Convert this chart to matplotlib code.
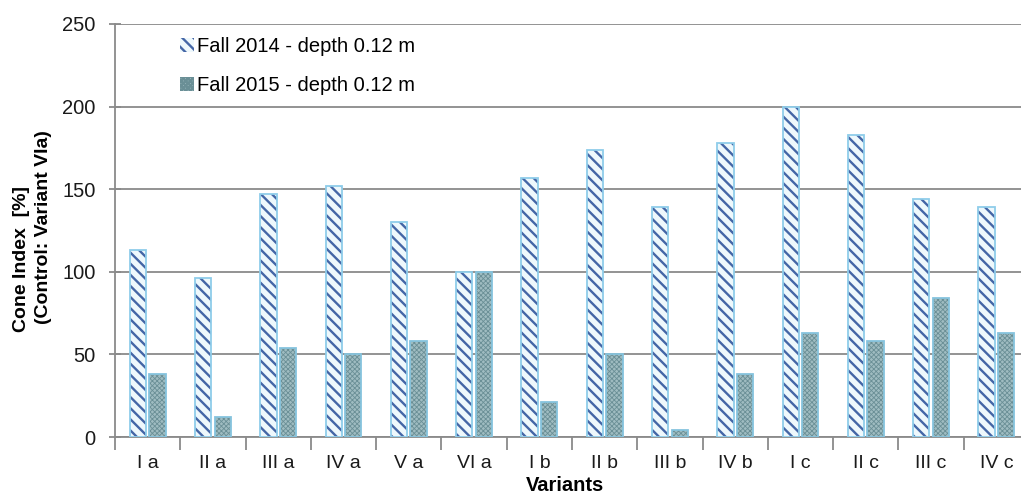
import matplotlib
matplotlib.use("Agg")
import matplotlib.pyplot as plt
import numpy as np
from matplotlib.patches import Patch

categories = ["I a", "II a", "III a", "IV a", "V a", "VI a", "I b", "II b",
              "III b", "IV b", "I c", "II c", "III c", "IV c"]
fall_2014 = [113, 96, 147, 152, 130, 100, 157, 174, 139, 178, 200, 183, 144, 139]
fall_2015 = [38, 12, 54, 50, 58, 100, 21, 50, 4, 38, 63, 58, 84, 63]
label_2014 = "Fall 2014 - depth 0.12 m"
label_2015 = "Fall 2015 - depth 0.12 m"
y_ticks = [0, 50, 100, 150, 200, 250]

plt.rcParams['font.family'] = ['Liberation Sans', 'DejaVu Sans']
plt.rcParams['hatch.linewidth'] = 1.7

W, H = 1021, 494
fig = plt.figure(figsize=(W / 100, H / 100), dpi=100)
ax = fig.add_axes([115 / W, (H - 437) / H, 914 / W, 413 / H])

x = np.arange(len(categories))
bw = 0.25
off = 0.15

face14 = '#eef8fc'
hatch14 = '#4466a6'
edge14 = '#8fcdea'
face15 = '#9fbcc1'
hatch15 = '#6a8f96'
edge15 = '#86c4de'
h14 = '\\\\\\'
h15 = 'xxxxxxx'

ax.bar(x - off, fall_2014, bw, color=face14, edgecolor=hatch14, hatch=h14, linewidth=0, zorder=3)
ax.bar(x - off, fall_2014, bw, fill=False, edgecolor=edge14, linewidth=1.3, zorder=4)
with plt.rc_context({'hatch.linewidth': 0.6}):
    ax.bar(x + off, fall_2015, bw, color=face15, edgecolor=hatch15, hatch=h15, linewidth=0, zorder=3)
ax.bar(x + off, fall_2015, bw, fill=False, edgecolor=edge15, linewidth=1.3, zorder=4)

ax.set_xlim(-0.5, len(categories) - 0.5)
ax.set_ylim(0, 250)
ax.set_yticks(y_ticks)
ax.yaxis.grid(True, color='#8a8a8a', linewidth=1.3, zorder=0)
ax.set_axisbelow(True)

for s in ['top', 'right']:
    ax.spines[s].set_visible(False)
for s in ['left', 'bottom']:
    ax.spines[s].set_color('#8a8a8a')
    ax.spines[s].set_linewidth(1.3)

ax.set_xticks(x)
ax.set_xticklabels(categories)
ax.set_xticks(np.arange(len(categories) + 1) - 0.5, minor=True)
ax.tick_params(axis='x', which='major', length=0, pad=13, labelsize=14, labelcolor='#1a1a1a')
ax.tick_params(axis='x', which='minor', length=9, width=1.3, color='#8a8a8a', direction='out')
ax.tick_params(axis='y', which='major', length=8, width=1.3, color='#8a8a8a', direction='inout',
               pad=10, labelsize=14.5, labelcolor='#1a1a1a')

fig.text(565 / W, 1 - 485 / H, "Variants", ha='center', va='center', fontsize=14.5, fontweight='bold')
fig.text(22 / W, 1 - 259 / H, "Cone Index  [%]", rotation=90, ha='center', va='center',
         fontsize=14, fontweight='bold')
fig.text(43 / W, 1 - 227 / H, "(Control: Variant VIa)", rotation=90, ha='center', va='center',
         fontsize=14, fontweight='bold')

handles = [
    Patch(facecolor=face14, edgecolor=hatch14, hatch='\\\\\\', linewidth=0),
    Patch(facecolor=face15, edgecolor=hatch15, hatch=h15, linewidth=0),
]
leg = ax.legend(handles, [label_2014, label_2015], loc='upper left',
                bbox_to_anchor=(180 / W, 1 - 37 / H), bbox_transform=fig.transFigure,
                frameon=False, fontsize=14.5, handlelength=0.7, handleheight=0.7,
                handletextpad=0.15, labelspacing=1.0, borderpad=0, borderaxespad=0)

fig.savefig("out.png", dpi=100)
